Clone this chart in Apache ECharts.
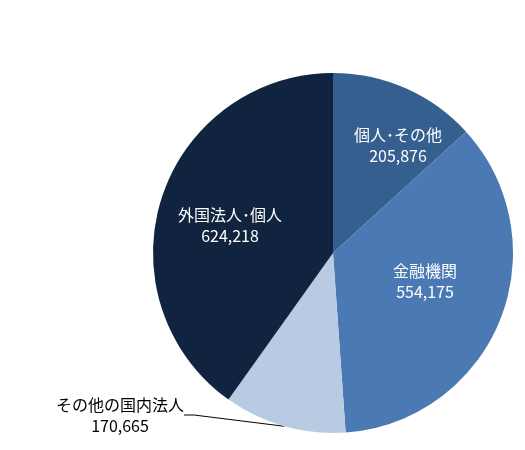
<!DOCTYPE html>
<html><head><meta charset="utf-8">
<script src="https://cdn.jsdelivr.net/npm/echarts@6/dist/echarts.min.js"></script>
<style>html,body{margin:0;padding:0;background:#fff}#c{width:525px;height:450px}</style>
</head><body><div id="c"></div>
<script>
const categories = ['個人･その他', '金融機関', 'その他の国内法人', '外国法人･個人'];
const values = [205876, 554175, 170665, 624218];
const colors = ['#355f8e', '#4a79b3', '#b8cbe2', '#10233f'];
const labelPos = [[398,145],[425,281],[120,415],[230,225]];
const chart = echarts.init(document.getElementById('c'));
chart.setOption({
  animation:false,
  series:[{
    type:'pie', center:[333,253], radius:180, startAngle:90, clockwise:true,
    data: categories.map((n,i)=>({name:n, value:values[i], itemStyle:{color:colors[i]},
      label: i===2 ? {position:'outside', color:'#000'} : {position:'inside', color:'#fff'},
      labelLine: i===2 ? {show:true, length:10, length2:10, lineStyle:{color:'#000', width:1}} : {show:false}
    })),
    label:{show:true, fontSize:16, fontFamily:'Noto Sans CJK JP', lineHeight:21, align:'center',
      formatter:p=>p.name+'\n'+p.value.toLocaleString('en-US')},
    labelLayout:p=>{const q=labelPos[p.dataIndex]; return {x:q[0], y:q[1], align:'center', verticalAlign:'middle'};},
    itemStyle:{borderWidth:0}
  }]
});
</script></body></html>
